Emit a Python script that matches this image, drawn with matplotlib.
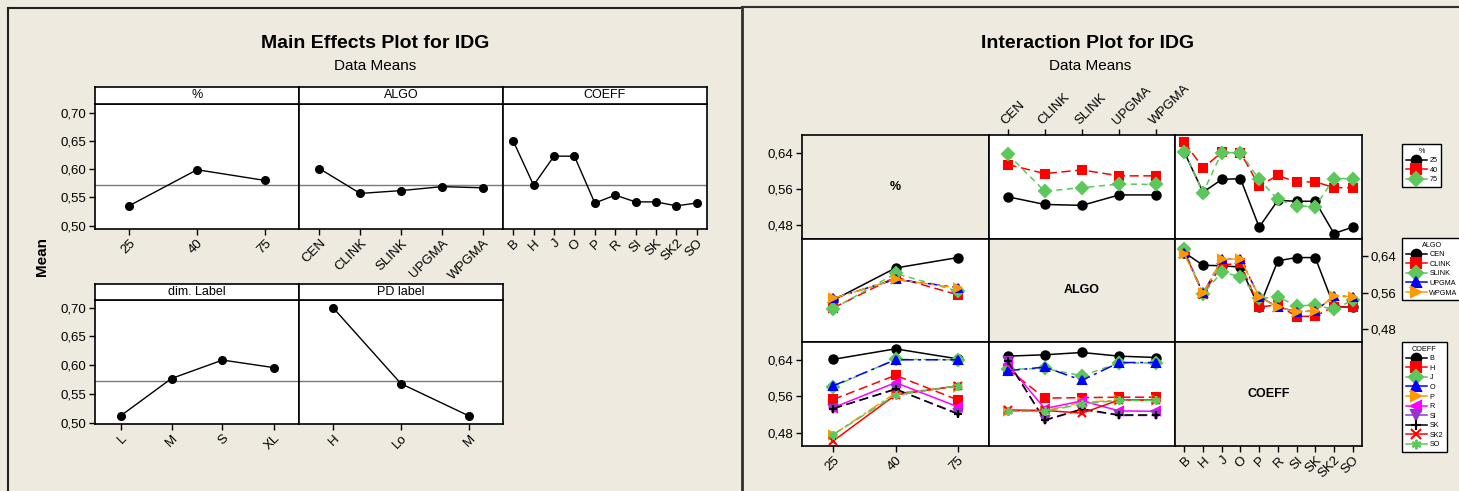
import matplotlib
matplotlib.use('Agg')
import matplotlib.pyplot as plt
from matplotlib.lines import Line2D
from matplotlib.ticker import FuncFormatter

# ---------------- data ----------------
PCT = ['25', '40', '75']
ALGO = ['CEN', 'CLINK', 'SLINK', 'UPGMA', 'WPGMA']
COEFF = ['B', 'H', 'J', 'O', 'P', 'R', 'SI', 'SK', 'SK2', 'SO']
DIM = ['L', 'M', 'S', 'XL']
PD = ['H', 'Lo', 'M']

GRAND_MEAN = 0.572

me_pct = [0.535, 0.599, 0.580]
me_algo = [0.601, 0.557, 0.562, 0.569, 0.567]
me_coeff = [0.650, 0.5715, 0.623, 0.623, 0.540, 0.554, 0.542, 0.542, 0.535, 0.540]
me_dim = [0.512, 0.577, 0.609, 0.596]
me_pd = [0.700, 0.568, 0.512]

# cell means: % (rows) x ALGO (cols)
pa_25 = [0.543, 0.526, 0.524, 0.547, 0.547]
pa_40 = [0.614, 0.594, 0.602, 0.589, 0.589]
pa_75 = [0.637, 0.555, 0.563, 0.571, 0.570]
PA = [pa_25, pa_40, pa_75]

# cell means: % (rows) x COEFF (cols)
pc_25 = [0.641, 0.553, 0.581, 0.583, 0.476, 0.535, 0.533, 0.533, 0.462, 0.476]
pc_40 = [0.664, 0.606, 0.641, 0.640, 0.567, 0.590, 0.575, 0.576, 0.563, 0.563]
pc_75 = [0.642, 0.552, 0.640, 0.640, 0.581, 0.537, 0.523, 0.521, 0.583, 0.583]
PC = [pc_25, pc_40, pc_75]

# cell means: ALGO (rows) x COEFF (cols)
ac_cen = [0.648, 0.620, 0.619, 0.616, 0.527, 0.630, 0.637, 0.637, 0.530, 0.527]
ac_clink = [0.651, 0.556, 0.621, 0.624, 0.528, 0.533, 0.507, 0.508, 0.529, 0.527]
ac_slink = [0.656, 0.557, 0.605, 0.595, 0.547, 0.550, 0.531, 0.532, 0.523, 0.543]
ac_upgma = [0.648, 0.558, 0.633, 0.634, 0.551, 0.528, 0.518, 0.519, 0.552, 0.551]
ac_wpgma = [0.645, 0.558, 0.633, 0.634, 0.551, 0.527, 0.518, 0.519, 0.552, 0.551]
AC = [ac_cen, ac_clink, ac_slink, ac_upgma, ac_wpgma]

# ---------------- styling ----------------
W, H = 1459, 491
BG = '#EEEADF'
GREEN = '#5CC85C'
STYLES = [
    dict(color='black', ls='-', marker='o'),
    dict(color='red', ls=(0, (6, 3)), marker='s'),
    dict(color=GREEN, ls=(0, (4, 3)), marker='D'),
    dict(color='blue', ls=(0, (8, 3, 2, 3)), marker='^'),
    dict(color='#FF9900', ls=(0, (8, 2, 2, 2)), marker='>'),
    dict(color='magenta', ls='-', marker='<'),
    dict(color='#9933CC', ls=(0, (6, 3)), marker='v'),
    dict(color='black', ls=(0, (6, 3)), marker='+'),
    dict(color='red', ls='-', marker='x'),
    dict(color=GREEN, ls=(0, (6, 3)), marker=(6, 2, 0)),
]

plt.rcParams['font.family'] = ['Liberation Sans', 'DejaVu Sans']

fig = plt.figure(figsize=(W / 100, H / 100), dpi=100, facecolor=BG)


def fax(x0, y0, x1, y1):
    return fig.add_axes([x0 / W, 1 - y1 / H, (x1 - x0) / W, (y1 - y0) / H])


comma = FuncFormatter(lambda v, p: f"{v:.2f}".replace('.', ','))


def spines(ax, lw=1.2):
    for s in ax.spines.values():
        s.set_linewidth(lw)


# ---------------- frames ----------------
fig.add_artist(Line2D([8 / W, 740 / W], [1 - 8 / H, 1 - 8 / H], color='#202020', lw=1.5))
fig.add_artist(Line2D([8 / W, 8 / W], [1 - 8 / H, 0], color='#202020', lw=1.5))
fig.add_artist(Line2D([742 / W, 742 / W], [1 - 7 / H, 0], color='#303030', lw=2))
fig.add_artist(Line2D([742 / W, 1], [1 - 7 / H, 1 - 7 / H], color='#303030', lw=1.5))

# ---------------- main effects ----------------
fig.text(375 / W, 1 - 44 / H, 'Main Effects Plot for IDG', ha='center', va='center',
         fontsize=14, fontweight='bold')
fig.text(375 / W, 1 - 66 / H, 'Data Means', ha='center', va='center', fontsize=11)
fig.text(42 / W, 1 - 257 / H, 'Mean', rotation=90, ha='center', va='center',
         fontsize=11, fontweight='bold')


def main_panel(x0, x1, sy, ay0, ay1, cats, vals, label, ylim, ylab):
    ax = fax(x0, ay0, x1, ay1)
    ax.set_facecolor('white')
    xs = list(range(1, len(cats) + 1))
    ax.axhline(GRAND_MEAN, color='#7A7A7A', lw=1, zorder=1)
    ax.plot(xs, vals, color='black', lw=1, marker='o', ms=5.5, zorder=3)
    ax.set_xlim(0.5, len(cats) + 0.5)
    ax.set_ylim(*ylim)
    ax.set_xticks(xs)
    ax.set_xticklabels(cats, rotation=45, ha='right', rotation_mode='anchor')
    ax.set_yticks([0.50, 0.55, 0.60, 0.65, 0.70])
    ax.yaxis.set_major_formatter(comma)
    ax.tick_params(direction='out', length=4, width=1, labelsize=9.5, pad=2)
    if not ylab:
        ax.tick_params(axis='y', left=False, labelleft=False)
    spines(ax)
    st = fax(x0, sy, x1, ay0)
    st.set_facecolor('white')
    st.set_xticks([])
    st.set_yticks([])
    spines(st)
    st.text(0.5, 0.5, label, ha='center', va='center', fontsize=9, transform=st.transAxes)
    return ax


tx = [95, 299, 503, 707]
main_panel(tx[0], tx[1], 87, 104, 229, PCT, me_pct, '%', (0.494, 0.7154), True)
main_panel(tx[1], tx[2], 87, 104, 229, ALGO, me_algo, 'ALGO', (0.494, 0.7154), False)
main_panel(tx[2], tx[3], 87, 104, 229, COEFF, me_coeff, 'COEFF', (0.494, 0.7154), False)
main_panel(tx[0], tx[1], 284, 300, 424, DIM, me_dim, 'dim. Label', (0.498, 0.7133), True)
main_panel(tx[1], tx[2], 284, 300, 424, PD, me_pd, 'PD label', (0.498, 0.7133), False)

# ---------------- interaction plot ----------------
fig.text(1088 / W, 1 - 44 / H, 'Interaction Plot for IDG', ha='center', va='center',
         fontsize=14, fontweight='bold')
fig.text(1090 / W, 1 - 66 / H, 'Data Means', ha='center', va='center', fontsize=11)

cx = [802, 989, 1175, 1362]
ry = [135, 238.5, 342, 446]
YL = (0.451, 0.679)
YT = [0.48, 0.56, 0.64]
factors = [PCT, ALGO, COEFF]
names = ['%', 'ALGO', 'COEFF']

axes = {}
for r in range(3):
    for c in range(3):
        ax = fax(cx[c], ry[r], cx[c + 1], ry[r + 1])
        n = len(factors[c])
        ax.set_xlim(0.5, n + 0.5)
        ax.set_ylim(*YL)
        ax.set_xticks([])
        ax.set_yticks([])
        spines(ax)
        ax.tick_params(direction='out', length=4, width=1, labelsize=9.5, pad=2)
        if r == c:
            ax.set_facecolor(BG)
            ax.text(0.5, 0.5, names[r], ha='center', va='center', fontsize=9,
                    fontweight='bold', transform=ax.transAxes)
        else:
            ax.set_facecolor('white')
        axes[(r, c)] = ax


def draw(ax, xcats, series):
    xs = list(range(1, len(xcats) + 1))
    for i, vals in enumerate(series):
        st = STYLES[i]
        ax.plot(xs, vals, color=st['color'], ls=st['ls'], marker=st['marker'], lw=1.1,
                ms=6, mec=st['color'], mfc=st['color'], mew=1.5, clip_on=False, zorder=3 + i * 0.01)


# row 0: % traces
draw(axes[(0, 1)], ALGO, PA)
draw(axes[(0, 2)], COEFF, PC)
# row 1: ALGO traces
draw(axes[(1, 0)], PCT, [[PA[p][a] for p in range(3)] for a in range(5)])
draw(axes[(1, 2)], COEFF, AC)
# row 2: COEFF traces
draw(axes[(2, 0)], PCT, [[PC[p][k] for p in range(3)] for k in range(10)])
draw(axes[(2, 1)], ALGO, [[AC[a][k] for a in range(5)] for k in range(10)])

# y axes
for r in (0, 2):
    ax = axes[(r, 0)]
    ax.set_yticks(YT)
    ax.yaxis.set_major_formatter(comma)
ax = axes[(1, 2)]
ax.set_yticks(YT)
ax.yaxis.set_major_formatter(comma)
ax.yaxis.tick_right()

# x axes
ax = axes[(2, 0)]
ax.set_xticks([1, 2, 3])
ax.set_xticklabels(PCT, rotation=45, ha='right', rotation_mode='anchor')
ax = axes[(2, 2)]
ax.set_xticks(list(range(1, 11)))
ax.set_xticklabels(COEFF, rotation=45, ha='right', rotation_mode='anchor')
ax = axes[(0, 1)]
ax.xaxis.tick_top()
ax.set_xticks(list(range(1, 6)))
ax.set_xticklabels(ALGO, rotation=45, ha='left', va='bottom', rotation_mode='anchor')


# legends
def legend(title, labels, top):
    handles = [Line2D([], [], color=STYLES[i]['color'], ls='-', marker=STYLES[i]['marker'],
                      ms=6, mec=STYLES[i]['color'], mfc=STYLES[i]['color'], mew=1.5, lw=1.1)
               for i in range(len(labels))]
    lg = fig.legend(handles, labels, title=title, loc='upper left',
                    bbox_to_anchor=(1402 / W, 1 - top / H), frameon=True, fancybox=False,
                    edgecolor='black', facecolor='white', framealpha=1, fontsize=5.2,
                    title_fontsize=5.2, handlelength=3.0, markerscale=1.15, borderpad=0.5,
                    labelspacing=0.35, handletextpad=0.3, borderaxespad=0)
    lg.get_frame().set_linewidth(1)
    return lg


legend('%', PCT, 144)
legend('ALGO', ALGO, 238)
legend('COEFF', COEFF, 342)

fig.savefig('out.png', dpi=100, facecolor=BG)
